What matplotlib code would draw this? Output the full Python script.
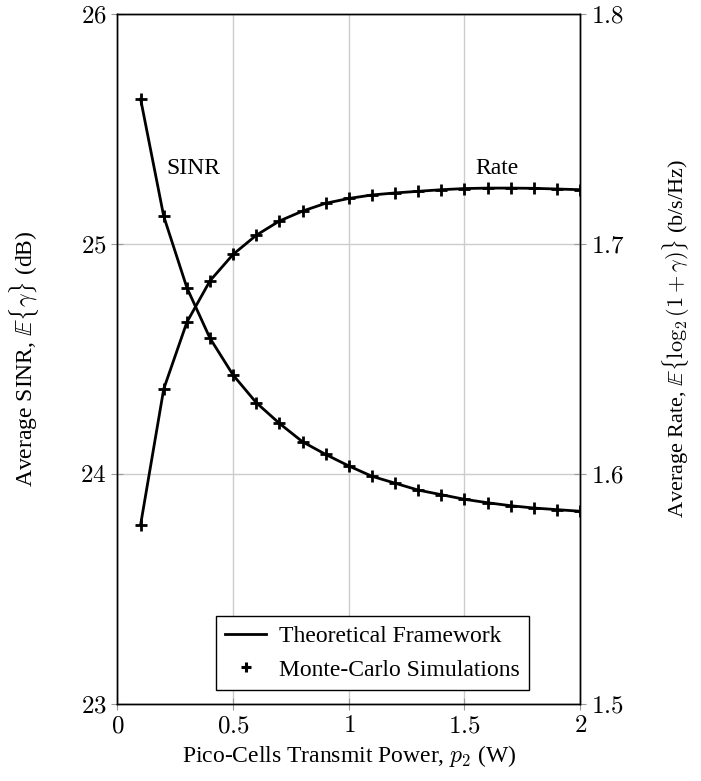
import matplotlib
matplotlib.use("Agg")
import matplotlib.pyplot as plt
from matplotlib.lines import Line2D

plt.rcParams['font.family'] = ['Liberation Serif', 'DejaVu Serif']
plt.rcParams['mathtext.fontset'] = 'cm'

power = [0.1, 0.2, 0.3, 0.4, 0.5, 0.6, 0.7, 0.8, 0.9, 1.0,
         1.1, 1.2, 1.3, 1.4, 1.5, 1.6, 1.7, 1.8, 1.9, 2.0]
sinr_db = [25.63, 25.12, 24.81, 24.59, 24.43, 24.31, 24.22, 24.14, 24.085, 24.035,
           23.99, 23.96, 23.93, 23.91, 23.89, 23.875, 23.862, 23.852, 23.845, 23.838]
rate = [1.578, 1.637, 1.666, 1.684, 1.6955, 1.7038, 1.710, 1.7143, 1.7177, 1.7198,
        1.7213, 1.7222, 1.7229, 1.7236, 1.7241, 1.7243, 1.7243, 1.7242, 1.7239, 1.7236]

xticks = [0, 0.5, 1, 1.5, 2]
xtick_labels = ['0', '0.5', '1', '1.5', '2']
yticks_left = [23, 24, 25, 26]
yticks_right = [1.5, 1.6, 1.7, 1.8]

fig = plt.figure(figsize=(7.01, 7.81), dpi=100)
ax = fig.add_axes([0.1676, 0.0986, 0.66, 0.8835])
ax2 = ax.twinx()

lw = 2.0
ax.plot(power, sinr_db, color='black', lw=lw, zorder=3)
ax.plot(power, sinr_db, ls='none', marker='+', ms=8, mew=2, color='black', zorder=4)
ax2.plot(power, rate, color='black', lw=lw, zorder=3)
ax2.plot(power, rate, ls='none', marker='+', ms=8, mew=2, color='black', zorder=4)

ax.set_xlim(0, 2)
ax.set_ylim(23, 26)
ax2.set_ylim(1.5, 1.8)

ax.set_xticks(xticks)
ax.set_xticklabels(['$%s$' % t for t in xtick_labels])
ax.set_yticks(yticks_left)
ax.set_yticklabels(['$%d$' % v for v in yticks_left])
ax2.set_yticks(yticks_right)
ax2.set_yticklabels(['$%.1f$' % v for v in yticks_right])

ax.grid(True, color='#cccccc', lw=1.0)
ax.set_axisbelow(True)
for a in (ax, ax2):
    a.tick_params(direction='inout', length=8, width=0.8, color='#999999',
                  labelsize=18, pad=4)
    for s in a.spines.values():
        s.set_linewidth(1.0)
        s.set_color('black')

ax.set_xlabel(r'Pico-Cells Transmit Power, $p_2$ (W)', fontsize=17, labelpad=4)
ax.set_ylabel(r'Average SINR, $\mathbb{E}\{\gamma\}$ (dB)', fontsize=17)
ax.yaxis.set_label_coords(-0.166, 0.5)
ax2.set_ylabel(r'Average Rate, $\mathbb{E}\{\log_2(1+\gamma)\}$ (b/s/Hz)', fontsize=16)
ax2.yaxis.set_label_coords(1.173, 0.53)

ax.text(0.33, 25.33, 'SINR', fontsize=17, ha='center', va='center')
ax.text(1.64, 25.33, 'Rate', fontsize=17, ha='center', va='center')

handles = [Line2D([], [], color='black', lw=lw),
           Line2D([], [], ls='none', marker='+', ms=7, mew=2.2, color='black')]
leg = ax.legend(handles, ['Theoretical Framework', 'Monte-Carlo Simulations'],
                loc='lower center', bbox_to_anchor=(0.551, 0.02), borderaxespad=0,
                fontsize=17, frameon=True, fancybox=False, edgecolor='black',
                framealpha=1, handlelength=1.7, handletextpad=0.55,
                borderpad=0.4, labelspacing=0.5)
leg.get_frame().set_linewidth(1.0)

fig.savefig('out.png', dpi=100)
